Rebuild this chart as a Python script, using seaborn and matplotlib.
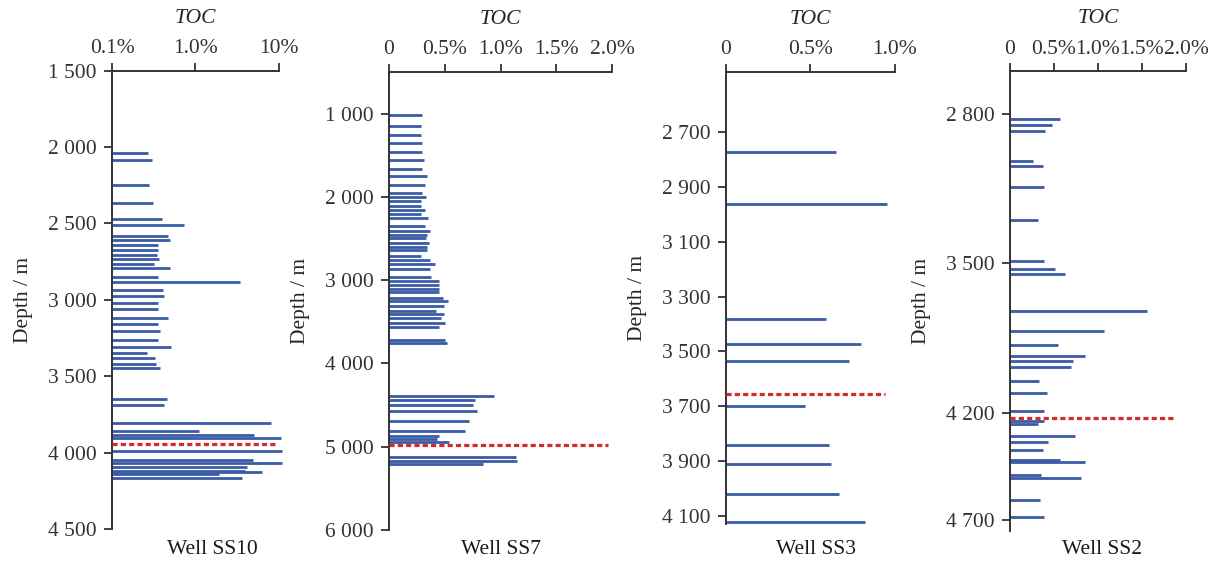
import numpy as np
import matplotlib
matplotlib.use('Agg')
import matplotlib.pyplot as plt
import seaborn as sns

# TOC profiles read from the four wells (depth in m, TOC in %)
ss10_depth = [2039, 2085, 2249, 2367, 2472, 2511, 2583, 2609, 2642, 2675,
              2708, 2734, 2767, 2793, 2852, 2885, 2937, 2976, 3022, 3062,
              3121, 3160, 3206, 3265, 3311, 3350, 3383, 3422, 3448, 3651,
              3691, 3809, 3861, 3887, 3907, 3992, 4051, 4071, 4091, 4117,
              4130, 4143, 4163]
ss10_toc = [0.27, 0.30, 0.28, 0.31, 0.40, 0.74, 0.47, 0.50, 0.36, 0.36,
            0.35, 0.37, 0.32, 0.50, 0.36, 3.48, 0.41, 0.42, 0.36, 0.36,
            0.47, 0.36, 0.38, 0.36, 0.51, 0.26, 0.33, 0.34, 0.38, 0.46,
            0.42, 8.0, 1.12, 5.1, 10.6, 10.9, 4.9, 10.9, 4.2, 4.0,
            6.4, 1.9, 3.6]

ss7_depth = [1012, 1151, 1259, 1355, 1462, 1555, 1659, 1746, 1863, 1954,
             2002, 2054, 2106, 2157, 2202, 2253, 2345, 2414, 2453, 2498,
             2553, 2605, 2641, 2713, 2761, 2801, 2864, 2956, 3013, 3064,
             3106, 3148, 3214, 3256, 3307, 3367, 3408, 3459, 3511, 3564,
             3715, 3755, 4390, 4438, 4505, 4570, 4697, 4813, 4870, 4909,
             4949, 5128, 5169, 5209]
ss7_toc = [0.30, 0.29, 0.29, 0.30, 0.30, 0.31, 0.30, 0.34, 0.32, 0.30,
           0.33, 0.29, 0.29, 0.32, 0.29, 0.35, 0.32, 0.37, 0.34, 0.33,
           0.36, 0.34, 0.34, 0.29, 0.37, 0.41, 0.37, 0.38, 0.45, 0.45,
           0.45, 0.45, 0.48, 0.53, 0.49, 0.42, 0.49, 0.47, 0.50, 0.45,
           0.50, 0.52, 0.94, 0.77, 0.75, 0.79, 0.72, 0.68, 0.45, 0.43,
           0.54, 1.14, 1.15, 0.84]

ss3_depth = [2771, 2962, 3383, 3474, 3534, 3701, 3842, 3912, 4022, 4123]
ss3_toc = [0.65, 0.95, 0.59, 0.80, 0.73, 0.47, 0.61, 0.62, 0.67, 0.82]

ss2_depth = [2823, 2853, 2882, 3020, 3044, 3144, 3299, 3488, 3525, 3549,
             3724, 3816, 3883, 3933, 3955, 3984, 4048, 4106, 4189, 4239,
             4250, 4309, 4334, 4373, 4417, 4430, 4489, 4505, 4606, 4687]
ss2_toc = [0.57, 0.48, 0.40, 0.26, 0.37, 0.39, 0.32, 0.39, 0.51, 0.63,
           1.56, 1.07, 0.55, 0.85, 0.72, 0.69, 0.33, 0.42, 0.39, 0.39,
           0.32, 0.74, 0.43, 0.38, 0.57, 0.85, 0.35, 0.81, 0.34, 0.39]

# red dashed marker: (depth, TOC extent)
marks = {'SS10': (3946, 9.5), 'SS7': (4977, 1.96),
         'SS3': (3654, 0.94), 'SS2': (4223, 1.85)}

wells = ['SS10', 'SS7', 'SS3', 'SS2']
depths = {'SS10': ss10_depth, 'SS7': ss7_depth, 'SS3': ss3_depth, 'SS2': ss2_depth}
tocs = {'SS10': ss10_toc, 'SS7': ss7_toc, 'SS3': ss3_toc, 'SS2': ss2_toc}

xticks = {'SS10': [0.1, 1, 10], 'SS7': [0, 0.5, 1.0, 1.5, 2.0],
          'SS3': [0, 0.5, 1.0], 'SS2': [0, 0.5, 1.0, 1.5, 2.0]}
xticklabels = {'SS10': ['0.1%', '1.0%', '10%'],
               'SS7': ['0', '0.5%', '1.0%', '1.5%', '2.0%'],
               'SS3': ['0', '0.5%', '1.0%'],
               'SS2': ['0', '0.5%', '1.0%', '1.5%', '2.0%']}
yticks = {'SS10': [1500, 2000, 2500, 3000, 3500, 4000, 4500],
          'SS7': [1000, 2000, 3000, 4000, 5000, 6000],
          'SS3': [2700, 2900, 3100, 3300, 3500, 3700, 3900, 4100],
          'SS2': [2800, 3500, 4200, 4700]}
ylims = {'SS10': (1500, 4500), 'SS7': (500, 6000),
         'SS3': (2480, 4130), 'SS2': (2600, 4750)}

# axes boxes in figure fraction [left, bottom, width, height]
boxes = {'SS10': [0.0916, 0.0719, 0.1362, 0.8041],
         'SS7': [0.3181, 0.0702, 0.1823, 0.8035],
         'SS3': [0.5936, 0.0807, 0.1382, 0.7930],
         'SS2': [0.8258, 0.0689, 0.1439, 0.8065]}
well_label_x = {'SS10': 212, 'SS7': 501, 'SS3': 816, 'SS2': 1102}

sns.set_theme(style='ticks')
plt.rcParams['font.family'] = ['Liberation Serif', 'DejaVu Serif']
plt.rcParams['axes.edgecolor'] = '#333333'
plt.rcParams['xtick.color'] = '#333333'
plt.rcParams['ytick.color'] = '#333333'
plt.rcParams['text.color'] = '#1a1a1a'

bar_color = '#3A5BA5'
fs = 15.5

fig = plt.figure(figsize=(12.23, 5.70), dpi=100)

for w in wells:
    ax = fig.add_axes(boxes[w])
    d = np.array(depths[w])
    t = np.array(tocs[w])
    x0 = 0.1 if w == 'SS10' else 0
    if w == 'SS10':
        ax.set_xscale('log')
    ax.hlines(d, x0, t, color=bar_color, lw=2.0, clip_on=False)
    md, mx = marks[w]
    ax.hlines([md], x0, mx, color='#D42A2A', lw=2.3,
              linestyles=(0, (1.6, 1.0)), clip_on=False, zorder=3)

    ax.set_xlim(xticks[w][0], xticks[w][-1])
    ax.set_ylim(ylims[w][1], ylims[w][0])
    ax.set_xticks(xticks[w])
    ax.set_xticklabels(xticklabels[w])
    ax.minorticks_off()
    ax.set_yticks(yticks[w])
    ax.set_yticklabels([f'{v:,}'.replace(',', ' ') for v in yticks[w]])

    ax.xaxis.tick_top()
    ax.xaxis.set_label_position('top')
    ax.set_xlabel('TOC', style='italic', fontsize=fs, labelpad=12)
    ax.set_ylabel('Depth / m', fontsize=fs, labelpad=11)
    ax.tick_params(axis='y', labelsize=fs, length=6, width=1.3,
                   direction='out', pad=5)
    ax.tick_params(axis='x', labelsize=fs, length=6, width=1.3,
                   direction='out', pad=3)
    for s in ['bottom', 'right']:
        ax.spines[s].set_visible(False)
    for s in ['top', 'left']:
        ax.spines[s].set_linewidth(1.4)

    fig.text(well_label_x[w] / 1223, 0.036, f'Well {w}', fontsize=fs,
             ha='center', va='center')

plt.savefig('out.png', dpi=100)
